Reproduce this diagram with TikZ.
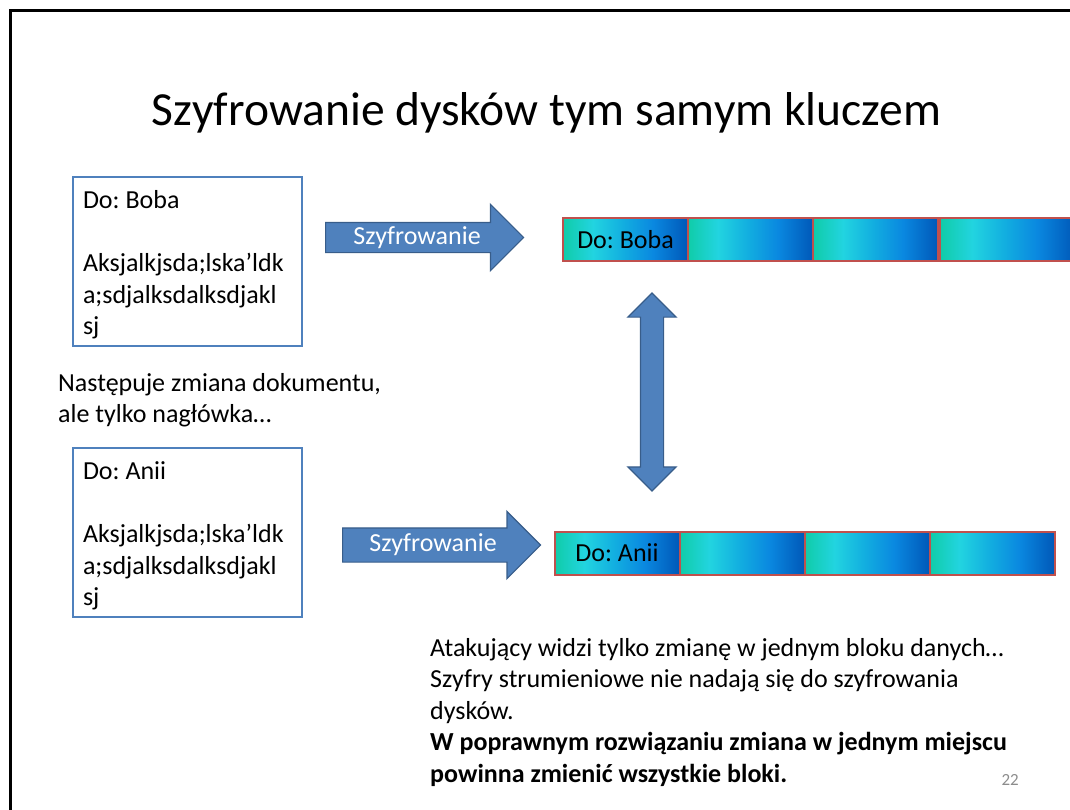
\documentclass[tikz,border=0pt]{standalone}
\usepackage{fontspec}
\setmainfont{Carlito}
\usepackage{tikz}
\usetikzlibrary{shapes.arrows}
\frenchspacing

\definecolor{slideBlue}{HTML}{4F81BD}
\definecolor{slideBlueDark}{HTML}{385D8A}
\definecolor{blockRed}{HTML}{C0504D}
\definecolor{blockA}{HTML}{10CCA8}
\definecolor{blockB}{HTML}{22D4E0}
\definecolor{blockC}{HTML}{12AEE0}
\definecolor{blockD}{HTML}{0A88E0}
\definecolor{blockE}{HTML}{0058B8}
\definecolor{pageGray}{HTML}{8C8C8C}

\pgfdeclarehorizontalshading{blockShade}{100bp}{color(0bp)=(blockA); color(25bp)=(blockA);
   color(37bp)=(blockB); color(49bp)=(blockC); color(61bp)=(blockD);
   color(75bp)=(blockE); color(100bp)=(blockE)}

\tikzstyle{docBox} = [draw=slideBlue, line width=2pt, rectangle, anchor=north west,
   minimum width=229pt, minimum height=169pt, text width=209pt, inner xsep=10pt,
   align=flush left, font=\fontsize{26}{31.5}\selectfont]
\tikzstyle{cipherArrow} = [single arrow, draw=slideBlueDark, fill=slideBlue, line width=1.2pt,
   text=white, font=\fontsize{26}{31.5}\selectfont, text height=18pt, text depth=5pt,
   single arrow tip angle=90, minimum height=198pt, anchor=tail]
\tikzstyle{block} = [draw=blockRed, line width=2pt, shading=blockShade, rectangle,
   minimum width=125pt, minimum height=43pt, inner sep=0pt,
   font=\fontsize{26}{31.5}\selectfont]
% base of a multi-line node is the baseline of its last line
\tikzstyle{bodyText} = [anchor=base west, align=left, inner sep=0pt,
   font=\fontsize{26}{31.5}\selectfont]

\begin{document}
\begin{tikzpicture}[x=1pt, y=-1pt, node distance=125pt]
  \useasboundingbox (0,0) rectangle (1070,809);
  \clip (0,0) rectangle (1070,809);
  % slide frame
  \draw[line width=3pt] (10,900) |- (1100,10);

  \node[anchor=base, inner sep=0pt, font=\fontsize{47.5}{57}\selectfont] (title) at (546.5,125)
    {Szyfrowanie dysków tym samym kluczem};

  % documents
  \node[docBox] (boba) at (72,176)
    {\rule{0pt}{25pt}Do: Boba\\[31.5pt]Aksjalkjsda;lska’ldk\\a;sdjalksdalksdjakl\\sj};
  \node[docBox] (anii) at (72,447)
    {\rule{0pt}{25pt}Do: Anii\\[31.5pt]Aksjalkjsda;lska’ldk\\a;sdjalksdalksdjakl\\sj};
  \node[bodyText] (change) at (58,422.5) {Następuje zmiana dokumentu,\\ale tylko nagłówka…};

  % encryption arrows
  \node[cipherArrow, inner ysep=3pt, single arrow head extend=18pt] (enc1) at (325,237.5) {Szyfrowanie};
  \node[cipherArrow, inner ysep=5pt, single arrow head extend=16.5pt] (enc2) at (342,545) {Szyfrowanie};

  % encrypted disk, first version
  \node[block] (b1) at (625.5,239.5) {Do: Boba};
  \node[block, right of=b1] (b2) {};
  \node[block, right of=b2] (b3) {};
  \node[block, minimum width=135pt, anchor=west] (b4) at (b3.east) {};

  % encrypted disk, second version
  \node[block] (a1) at (617,553) {Do: Anii};
  \node[block, right of=a1] (a2) {};
  \node[block, right of=a2] (a3) {};
  \node[block, right of=a3] (a4) {};

  % comparison
  \node[double arrow, draw=slideBlueDark, fill=slideBlue, line width=1.2pt, rotate=90,
    inner xsep=0pt, inner ysep=11pt, double arrow head extend=12.5pt, double arrow tip angle=90,
    minimum height=198pt] (cmp) at (652,392) {};

  \node[bodyText] (note) at (430,782) {Atakujący widzi tylko zmianę w jednym bloku danych…\\
    Szyfry strumieniowe nie nadają się do szyfrowania\\dysków.\\
    \textbf{W poprawnym rozwiązaniu zmiana w jednym miejscu}\\
    \textbf{powinna zmienić wszystkie bloki.}};

  \node[anchor=base east, inner sep=0pt, text=pageGray, font=\fontsize{17}{20}\selectfont] (page) at (1019,785) {22};
\end{tikzpicture}
\end{document}
